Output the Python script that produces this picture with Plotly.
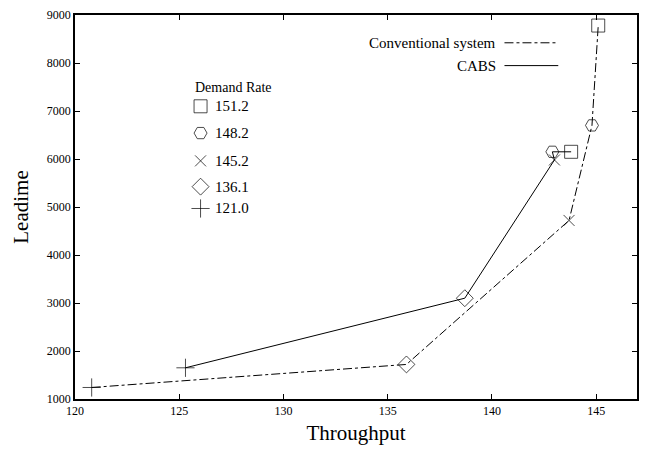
import plotly.graph_objects as go

# Data
conv_x = [120.8, 135.9, 143.7, 144.8, 145.1]
conv_y = [1240, 1720, 4720, 6700, 8780]
cabs_x = [125.3, 138.7, 143.0, 142.9, 143.8]
cabs_y = [1650, 3100, 5980, 6150, 6150]
rate_labels = ["151.2", "148.2", "145.2", "136.1", "121.0"]
point_symbols = ["cross-thin-open", "diamond-open", "x-thin-open", "hexagon2-open", "square-open"]
legend_symbols = ["square-open", "hexagon2-open", "x-thin-open", "diamond-open", "cross-thin-open"]

W, H = 647, 450
L, R, T, B = 75, 639, 12, 399
def px(x):
    return (x - L) / (R - L)
def py(y):
    return (B - y) / (B - T)

FONT = "Liberation Serif"
sizes = {"cross-thin-open": 13, "diamond-open": 13, "x-thin-open": 11,
         "hexagon2-open": 13, "square-open": 13}

fig = go.Figure()
fig.add_trace(go.Scatter(
    x=conv_x, y=conv_y, mode="lines+markers",
    line=dict(color="black", width=1, dash="dashdot"),
    marker=dict(symbol=point_symbols, size=[sizes[s] for s in point_symbols],
                color="black", line=dict(color="black", width=1)),
    showlegend=False))
fig.add_trace(go.Scatter(
    x=cabs_x, y=cabs_y, mode="lines+markers",
    line=dict(color="black", width=1),
    marker=dict(symbol=point_symbols, size=[sizes[s] for s in point_symbols],
                color="black", line=dict(color="black", width=1)),
    showlegend=False))

# Demand-rate key markers on an overlay axis (paper-like 0..1)
row_y = [104, 131, 159, 185, 207]
fig.add_trace(go.Scatter(
    x=[px(201)] * len(legend_symbols), y=[py(v) for v in row_y],
    xaxis="x2", yaxis="y2", mode="markers",
    marker=dict(symbol=legend_symbols, size=[sizes[s] for s in legend_symbols],
                color="black", line=dict(color="black", width=1)),
    showlegend=False, hoverinfo="skip"))

annotations = [
    dict(x=px(193), y=py(85), xref="paper", yref="paper", text="Demand Rate",
         showarrow=False, xanchor="left", yanchor="middle",
         font=dict(family=FONT, size=14, color="black")),
    dict(x=px(500), y=py(40), xref="paper", yref="paper", text="Conventional system",
         showarrow=False, xanchor="right", yanchor="middle",
         font=dict(family=FONT, size=15, color="black")),
    dict(x=px(500), y=py(63), xref="paper", yref="paper", text="CABS",
         showarrow=False, xanchor="right", yanchor="middle",
         font=dict(family=FONT, size=15, color="black")),
]
for lab, yy in zip(rate_labels, row_y):
    annotations.append(dict(x=px(213), y=py(yy), xref="paper", yref="paper", text=lab,
                            showarrow=False, xanchor="left", yanchor="middle",
                            font=dict(family=FONT, size=15, color="black")))

shapes = [
    dict(type="line", xref="paper", yref="paper", x0=px(506), x1=px(560),
         y0=py(40), y1=py(40), line=dict(color="black", width=1, dash="dashdot")),
    dict(type="line", xref="paper", yref="paper", x0=px(506), x1=px(560),
         y0=py(63), y1=py(63), line=dict(color="black", width=1)),
]

axis_common = dict(showline=True, linecolor="black", linewidth=1.5, mirror="ticks",
                   ticks="inside", ticklen=5, tickcolor="black", showgrid=False,
                   zeroline=False, tickfont=dict(family=FONT, size=12, color="black"))

fig.update_layout(
    width=W, height=H,
    margin=dict(l=L, r=W - R, t=T, b=H - B),
    paper_bgcolor="white", plot_bgcolor="white",
    xaxis=dict(range=[120, 146.96], tickvals=[120, 125, 130, 135, 140, 145],
               title=dict(text="Throughput", font=dict(family=FONT, size=21, color="black"), standoff=8),
               **axis_common),
    yaxis=dict(range=[1000, 9000], tickvals=list(range(1000, 9001, 1000)),
               title=dict(text="Leadime", font=dict(family=FONT, size=21, color="black"), standoff=12),
               **axis_common),
    xaxis2=dict(range=[0, 1], overlaying="x", visible=False, fixedrange=True),
    yaxis2=dict(range=[0, 1], overlaying="y", visible=False, fixedrange=True),
    annotations=annotations, shapes=shapes,
)

fig.write_html("out.html", config={"displayModeBar": False},
               post_script="document.body.style.margin='0';")
